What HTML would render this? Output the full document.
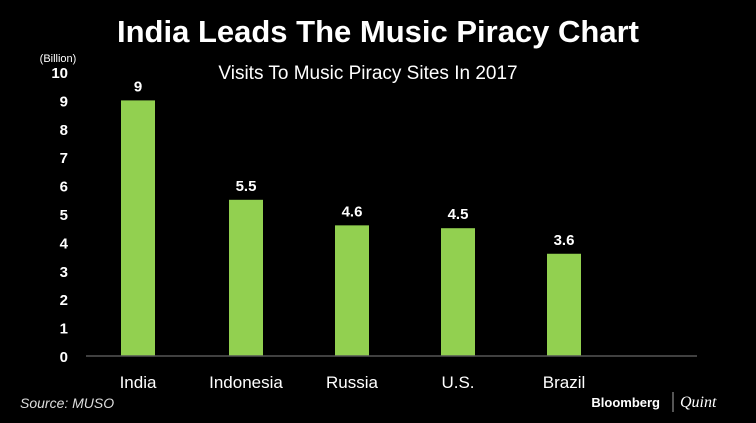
<!DOCTYPE html>
<html><head><meta charset="utf-8"><style>
body{margin:0;background:#000;width:756px;height:423px;overflow:hidden;font-family:"Liberation Sans",sans-serif}
svg{display:block}
</style></head><body>
<svg width="756" height="423">
<text x="378" y="42" text-anchor="middle" fill="#fff" font-size="31" font-weight="bold">India Leads The Music Piracy Chart</text>
<text x="368" y="79" text-anchor="middle" fill="#fff" font-size="19">Visits To Music Piracy Sites In 2017</text>
<text x="58" y="62" text-anchor="middle" fill="#fff" font-size="11">(Billion)</text>
<g id="yt"></g><g id="bars"></g>
<line x1="86" y1="356" x2="697" y2="356" stroke="#555" stroke-width="1.5"/>
<text x="20" y="408" fill="#ddd" font-size="14" font-style="italic">Source: MUSO</text>
<text x="660" y="407" text-anchor="end" fill="#fff" font-size="13" font-weight="bold">Bloomberg</text>
<line x1="673" y1="392" x2="673" y2="412" stroke="#aaa"/>
<text x="680" y="407" fill="#fff" font-size="16" font-style="italic" font-family="Liberation Serif,serif">Quint</text>
</svg>
<script>
const categories=["India","Indonesia","Russia","U.S.","Brazil"];
const values=[9,5.5,4.6,4.5,3.6];
const valueLabels=["9","5.5","4.6","4.5","3.6"];
const yTicks=[0,1,2,3,4,5,6,7,8,9,10];
const centers=[138,246,352,458,564];
const y=v=>356-v*28.4;
const ns="http://www.w3.org/2000/svg";
function mk(t,a,p){const e=document.createElementNS(ns,t);for(const k in a)e.setAttribute(k,a[k]);p.appendChild(e);return e;}
const yt=document.getElementById('yt'),bars=document.getElementById('bars');
yTicks.forEach(v=>{const t=mk('text',{x:68,y:y(v)+6,'text-anchor':'end',fill:'#fff','font-size':15,'font-weight':'bold'},yt);t.textContent=v;

});
categories.forEach((c,i)=>{const cx=centers[i];
const r=mk('rect',{x:cx-17,y:y(values[i]),width:34,height:356-y(values[i]),fill:'#92d050'},bars);


const l=mk('text',{x:cx,y:y(values[i])-9,'text-anchor':'middle',fill:'#fff','font-size':15,'font-weight':'bold'},bars);l.textContent=valueLabels[i];


const x=mk('text',{x:cx,y:388,'text-anchor':'middle',fill:'#fff','font-size':17},bars);x.textContent=c;

});
</script>
</body></html>
